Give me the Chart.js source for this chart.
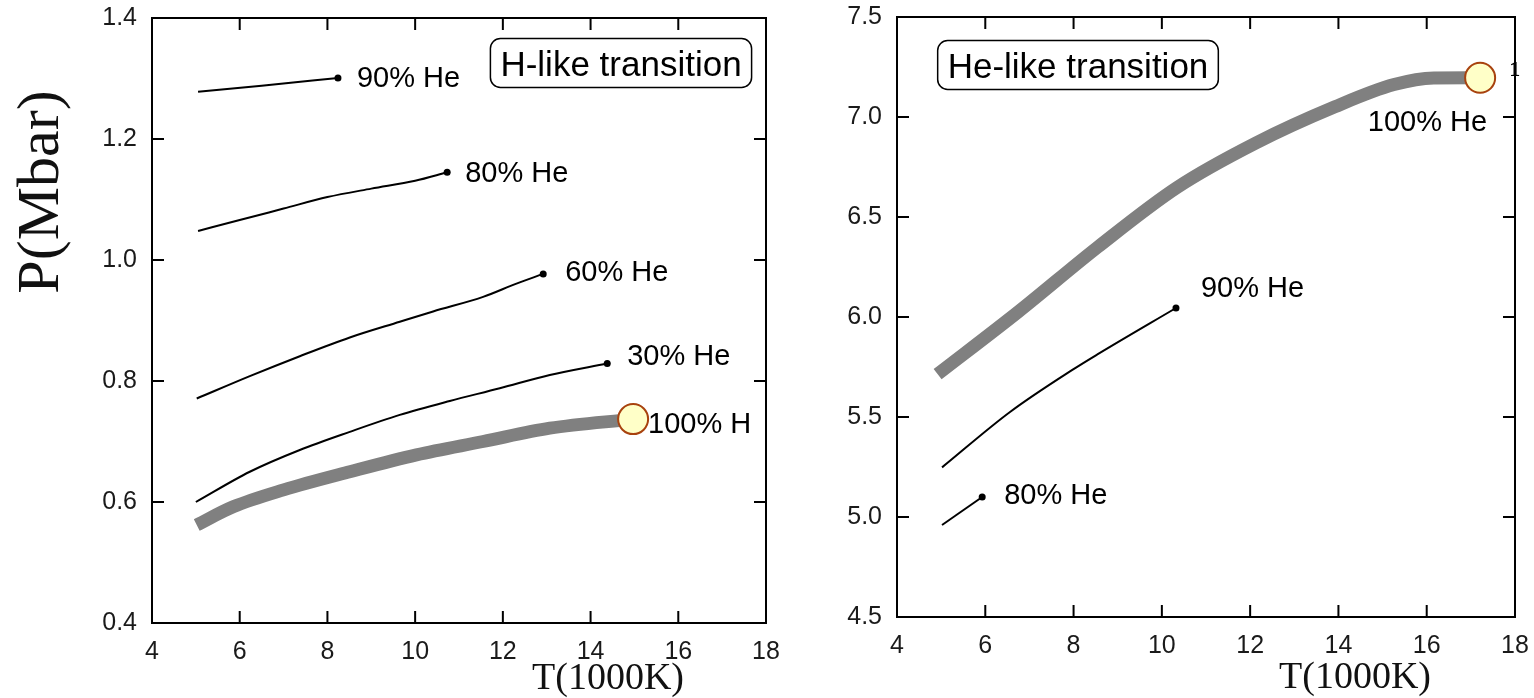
<!DOCTYPE html>
<html>
<head>
<meta charset="utf-8">
<script src="https://cdn.jsdelivr.net/npm/chart.js@4.4.1/dist/chart.umd.min.js"></script>
<style>
html,body{margin:0;padding:0;background:#fff;}
#wrap{position:relative;width:1534px;height:698px;overflow:hidden;}
.panel{position:absolute;top:0;height:698px;}
#p1{left:0;width:800px;}
#p2{left:800px;width:734px;}
</style>
</head>
<body>
<div id="wrap">
  <div class="panel" id="p1"><canvas id="c1"></canvas></div>
  <div class="panel" id="p2"><canvas id="c2"></canvas></div>
</div>
<script>
// temperature in 1000 K, pressure in Mbar

// H-like transition
const hT90=[5.05,6.5,8.24],                              hP90=[1.278,1.288,1.301];
const hT80=[5.05,6,7,8,9,10,10.73],                      hP80=[1.048,1.066,1.085,1.104,1.118,1.131,1.145];
const hT60=[5.02,6.23,7.37,8.51,9.65,10.41,11.55,12.31,12.92], hP60=[0.771,0.808,0.841,0.872,0.898,0.915,0.939,0.961,0.977];
const hT30=[5.0,6.23,7.37,8.51,9.65,10.79,11.93,13.07,14.38],  hP30=[0.600,0.650,0.686,0.716,0.744,0.767,0.788,0.810,0.829];
const hTH=[5.02,5.85,7.0,8.51,10.03,11.55,13.07,14.97],   hPH=[0.562,0.592,0.620,0.650,0.678,0.700,0.722,0.737];

// He-like transition
const heT90=[5.02,6.56,7.99,8.54,10.32],                 heP90=[5.248,5.525,5.738,5.813,6.045];
const heT80=[5.02,5.93],                                 heP80=[4.96,5.10];
const heTHe=[4.92,6.76,8.55,10.34,12.13,13.92,15.26,16.16,17.21], hePHe=[5.714,6.028,6.35,6.647,6.87,7.051,7.162,7.195,7.196];

const tTicks=[4,6,8,10,12,14,16,18];
const hPTicks=[0.4,0.6,0.8,1.0,1.2,1.4];
const hePTicks=[4.5,5.0,5.5,6.0,6.5,7.0,7.5];

const SANS="'Liberation Sans', Arial, sans-serif";
const SERIF="'Liberation Serif', 'Times New Roman', serif";

const pts=(xs,ys)=>xs.map((x,i)=>({x,y:ys[i]}));
const lastOnly=r=>ctx=>ctx.dataIndex===ctx.dataset.data.length-1?r:0;

function thin(xs,ys){
  return {data:pts(xs,ys),borderColor:'#000',borderWidth:2,cubicInterpolationMode:'monotone',
    pointRadius:lastOnly(3.5),pointBackgroundColor:'#000',pointBorderWidth:0};
}
function thick(xs,ys){
  return {data:pts(xs,ys),borderColor:'#808080',borderWidth:13,borderCapStyle:'butt',cubicInterpolationMode:'monotone',
    pointRadius:lastOnly(15),pointBackgroundColor:'#ffffc8',pointBorderColor:'#a8420e',pointBorderWidth:2};
}

// frame, inward ticks, curve labels, boxed caption, axis titles
const decor={
  id:'decor',
  afterDraw(chart,args,o){
    const {ctx,chartArea:a,scales:{x,y}}=chart;
    ctx.save();
    ctx.strokeStyle='#000';ctx.lineWidth=2;
    ctx.strokeRect(a.left,a.top,a.right-a.left,a.bottom-a.top);
    ctx.beginPath();
    x.ticks.forEach(t=>{const p=x.getPixelForValue(t.value);
      ctx.moveTo(p,a.bottom);ctx.lineTo(p,a.bottom-12);ctx.moveTo(p,a.top);ctx.lineTo(p,a.top+12);});
    y.ticks.forEach(t=>{const p=y.getPixelForValue(t.value);
      ctx.moveTo(a.left,p);ctx.lineTo(a.left+12,p);ctx.moveTo(a.right,p);ctx.lineTo(a.right-12,p);});
    ctx.stroke();

    ctx.fillStyle='#000';
    o.labels.forEach(l=>{
      const d=chart.getDatasetMeta(l.ds).data;const e=d[d.length-1];
      const size=l.size||29;
      ctx.font=(l.weight||'')+' '+size+'px '+(l.family||SANS);
      ctx.textAlign=l.align||'left';ctx.textBaseline='alphabetic';
      ctx.fillText(l.text,e.x+l.dx,e.y+l.dy+0.36*size);
    });

    const b=o.box;
    ctx.font='35px '+SANS;
    const w=ctx.measureText(b.text).width+20,h=49,bx=b.cx-w/2,by=b.cy-h/2;
    ctx.lineWidth=1.5;ctx.beginPath();ctx.roundRect(bx,by,w,h,10);ctx.stroke();
    ctx.textAlign='center';ctx.fillText(b.text,b.cx,b.cy+0.36*35);

    ctx.fillStyle='#111';
    if(o.yTitle){
      ctx.save();ctx.translate(o.yTitle.x,o.yTitle.y);ctx.rotate(-Math.PI/2);
      ctx.font='60px '+SERIF;ctx.textAlign='center';ctx.textBaseline='middle';
      ctx.fillText(o.yTitle.text,0,0);ctx.restore();
    }
    ctx.font='38px '+SERIF;ctx.textAlign='center';ctx.textBaseline='middle';
    ctx.fillText(o.xTitle.text,o.xTitle.x,o.xTitle.y);
    ctx.restore();
  }
};

function axes(pTicks,leftW,bottomH){
  const tickFont={family:SANS,size:25};
  return {
    x:{type:'linear',min:4,max:18,
      afterBuildTicks:s=>{s.ticks=tTicks.map(v=>({value:v}));},
      afterFit:s=>{s.height=bottomH;s.paddingLeft=0;s.paddingRight=0;},
      grid:{display:false,drawTicks:false},border:{display:false},
      ticks:{font:tickFont,color:'#1a1a1a',padding:14,maxRotation:0,callback:v=>String(v)}},
    y:{type:'linear',min:pTicks[0],max:pTicks[pTicks.length-1],
      afterBuildTicks:s=>{s.ticks=pTicks.map(v=>({value:v}));},
      afterFit:s=>{s.width=leftW;s.paddingTop=0;s.paddingBottom=0;},
      grid:{display:false,drawTicks:false},border:{display:false},
      ticks:{font:tickFont,color:'#1a1a1a',padding:15,callback:v=>v.toFixed(1)}}
  };
}

function base(pad,scales,dec){
  return {
    responsive:true,maintainAspectRatio:false,animation:false,
    layout:{padding:pad},
    plugins:{legend:{display:false},tooltip:{enabled:false},decor:dec},
    scales
  };
}

new Chart(document.getElementById('c1'),{
  type:'line',
  data:{datasets:[thin(hT90,hP90),thin(hT80,hP80),thin(hT60,hP60),thin(hT30,hP30),thick(hTH,hPH)]},
  options:base({top:18,right:34,left:0,bottom:0},axes(hPTicks,152,75),{
    labels:[
      {ds:0,text:'90% He',dx:19,dy:-1},
      {ds:1,text:'80% He',dx:18,dy:-1},
      {ds:2,text:'60% He',dx:22,dy:-3},
      {ds:3,text:'30% He',dx:20,dy:-9},
      {ds:4,text:'100% H',dx:15,dy:3}
    ],
    box:{text:'H-like transition',cx:621,cy:63},
    yTitle:{text:'P(Mbar)',x:42,y:192},
    xTitle:{text:'T(1000K)',x:608,y:679}
  }),
  plugins:[decor]
});

new Chart(document.getElementById('c2'),{
  type:'line',
  data:{datasets:[thin(heT90,heP90),thin(heT80,heP80),thick(heTHe,hePHe)]},
  options:base({top:13,right:19,left:0,bottom:0},axes(hePTicks,97,81),{
    labels:[
      {ds:0,text:'90% He',dx:25,dy:-21},
      {ds:1,text:'80% He',dx:22,dy:-3},
      {ds:2,text:'100% He',dx:7,dy:43,align:'right'},
      {ds:2,text:'1',dx:29,dy:-10,size:22,weight:'bold',family:SERIF}
    ],
    box:{text:'He-like transition',cx:278,cy:65},
    xTitle:{text:'T(1000K)',x:555,y:678}
  }),
  plugins:[decor]
});
</script>
</body>
</html>
